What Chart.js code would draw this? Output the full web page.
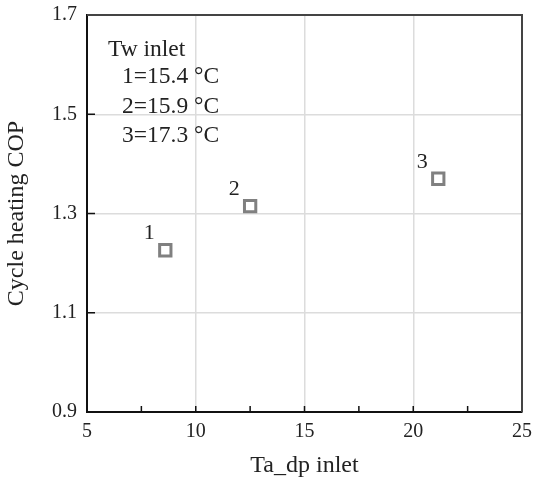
<!DOCTYPE html>
<html>
<head>
<meta charset="utf-8">
<script src="https://cdn.jsdelivr.net/npm/chart.js@4/dist/chart.umd.min.js"></script>
<style>
  html, body { margin: 0; padding: 0; background: #fff; }
  #wrap { width: 533px; height: 480px; }
</style>
</head>
<body>
<div id="wrap"><canvas id="myChart" width="533" height="480"></canvas></div>
<script>
// data
const pointLabels = ['1', '2', '3'];
const taDp = [8.6, 12.5, 21.15];
const cop = [1.226, 1.315, 1.370];
const legendLines = ['Tw inlet', '1=15.4 °C', '2=15.9 °C', '3=17.3 °C'];
const xMinorTicks = [7.5, 10, 12.5, 15, 17.5, 20, 22.5];
const yInnerTicks = [1.1, 1.3, 1.5];

const serif = 'Liberation Serif';
const textColor = '#222';

const pts = taDp.map((v, i) => ({ x: v, y: cop[i] }));

const decorations = {
  id: 'decorations',
  afterDraw(chart) {
    const ctx = chart.ctx;
    const a = chart.chartArea;
    const xs = chart.scales.x, ys = chart.scales.y;
    ctx.save();
    // top and right frame
    ctx.strokeStyle = '#444';
    ctx.lineWidth = 2;
    ctx.beginPath();
    ctx.moveTo(a.left, a.top);
    ctx.lineTo(a.right, a.top);
    ctx.lineTo(a.right, a.bottom);
    ctx.stroke();
    // inward ticks
    ctx.strokeStyle = '#111';
    ctx.lineWidth = 1.5;
    ctx.beginPath();
    xMinorTicks.forEach(v => {
      const px = xs.getPixelForValue(v);
      ctx.moveTo(px, a.bottom);
      ctx.lineTo(px, a.bottom - 6);
    });
    yInnerTicks.forEach(v => {
      const py = ys.getPixelForValue(v);
      ctx.moveTo(a.left, py);
      ctx.lineTo(a.left + 8, py);
    });
    ctx.stroke();
    // point labels
    ctx.fillStyle = textColor;
    ctx.font = '22px "' + serif + '"';
    ctx.textAlign = 'center';
    ctx.textBaseline = 'middle';
    const meta = chart.getDatasetMeta(0);
    meta.data.forEach((el, i) => {
      ctx.fillText(pointLabels[i], el.x - 16, el.y - 17);
    });
    // legend text
    ctx.font = '23.5px "' + serif + '"';
    ctx.textAlign = 'left';
    ctx.fillText(legendLines[0], a.left + 21, a.top + 35);
    for (let i = 1; i < legendLines.length; i++) {
      ctx.fillText(legendLines[i], a.left + 35, a.top + 62 + (i - 1) * 29.5);
    }
    ctx.restore();
  }
};

function setup() {
  const ctx = document.getElementById('myChart').getContext('2d');
  new Chart(ctx, {
    type: 'scatter',
    data: {
      datasets: [{
        data: pts,
        pointStyle: 'rect',
        pointRadius: 8,
        pointHoverRadius: 8,
        pointBorderWidth: 3,
        borderColor: '#808080',
        backgroundColor: 'rgba(0,0,0,0)'
      }]
    },
    options: {
      responsive: false,
      animation: false,
      layout: { padding: { left: 0, top: 15, right: 9, bottom: 0 } },
      plugins: { legend: { display: false }, tooltip: { enabled: false } },
      scales: {
        x: {
          type: 'linear',
          min: 5, max: 25,
          afterFit(scale) {
            scale.height = 68;
            scale.paddingLeft = 0;
            scale.paddingRight = 0;
          },
          ticks: {
            stepSize: 5,
            padding: 8,
            color: textColor,
            font: { family: serif, size: 20 }
          },
          grid: { color: '#dcdcdc', lineWidth: 1.5, drawTicks: false },
          border: { color: '#111', width: 2 },
          title: {
            display: true,
            text: 'Ta_dp inlet',
            color: textColor,
            font: { family: serif, size: 24 },
            padding: { top: 0, bottom: 0 }
          }
        },
        y: {
          type: 'linear',
          min: 0.9, max: 1.7,
          afterFit(scale) {
            scale.width = 87;
            scale.paddingTop = 0;
            scale.paddingBottom = 0;
          },
          ticks: {
            stepSize: 0.2,
            padding: 10,
            color: textColor,
            font: { family: serif, size: 20 },
            callback: v => v.toFixed(1)
          },
          grid: { color: '#dcdcdc', lineWidth: 1.5, drawTicks: false },
          border: { color: '#111', width: 2 },
          title: {
            display: true,
            text: 'Cycle heating COP',
            color: textColor,
            font: { family: serif, size: 24 },
            padding: { top: 2, bottom: 0 }
          }
        }
      }
    },
    plugins: [decorations]
  });
}

window.addEventListener('load', setup);
</script>
</body>
</html>
